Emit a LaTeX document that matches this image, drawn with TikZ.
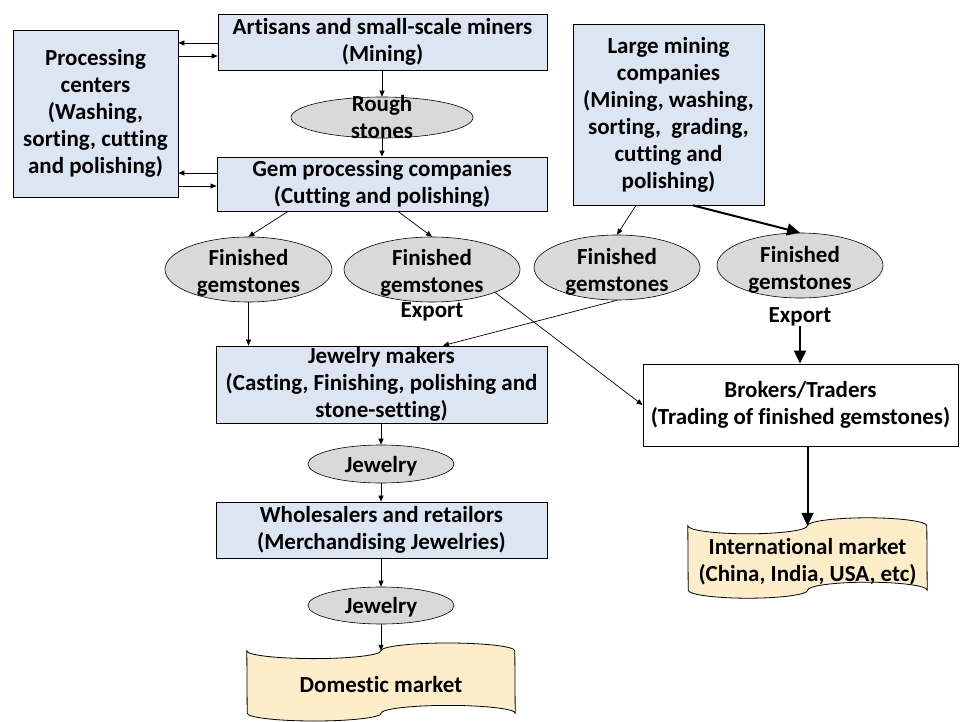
\documentclass[tikz,border=0pt]{standalone}
\usepackage{fontspec}
\setmainfont{Carlito}[Ligatures=NoCommon]
\usetikzlibrary{arrows.meta,shapes.geometric}
\definecolor{boxblue}{RGB}{220,230,242}
\definecolor{ovalgray}{RGB}{217,217,217}
\definecolor{tapefill}{RGB}{253,237,200}
\begin{document}
\begin{tikzpicture}[x=1pt,y=-1pt,
  lbl/.style={font=\bfseries\fontsize{23}{27}\selectfont, align=center, inner sep=0pt},
  stage/.style={lbl, draw=black, line width=0.8pt, fill=boxblue,
    execute at begin node={\rule{0pt}{21pt}}},
  trader/.style={lbl, draw=black, line width=0.8pt, fill=white,
    execute at begin node={\rule{0pt}{21pt}}},
  oval/.style={ellipse, draw=black, line width=0.6pt, fill=ovalgray, inner sep=0pt},
  tapebox/.style={lbl, minimum width=#1},
  tapeline/.style={draw=black, line width=0.8pt, fill=tapefill},
  arr/.style={line width=0.7pt, -{Triangle[length=6pt,width=5pt]}},
  bigarr/.style={line width=2pt, -{Triangle[length=13pt,width=12pt]}}
]
\useasboundingbox (0,0) rectangle (960,722);

% Small-scale chain
\node[stage, minimum width=165, minimum height=167] (proc) at (95.5,113.5)
  {Processing\\centers\\(Washing,\\sorting, cutting\\and polishing)};
\node[stage, minimum width=329, minimum height=56] (artisans) at (382.5,42)
  {Artisans and small-scale miners\\(Mining)};
\node[oval, minimum width=182, minimum height=41] (rough) at (382,117.5) {};
\node[lbl] (roughtxt) at (rough) {Rough\\stones};
\node[stage, minimum width=330, minimum height=54] (gem) at (382,184)
  {Gem processing companies\\(Cutting and polishing)};

% Large companies
\node[stage, minimum width=191, minimum height=181] (large) at (668.5,114.5)
  {Large mining\\companies\\(Mining, washing,\\sorting,\ \ grading,\\cutting and\\polishing)};

% Finished gemstones
\node[oval, minimum width=167, minimum height=65] (f1) at (248.5,269.5) {};
\node[lbl] at ([yshift=-3pt]f1.center) {Finished\\gemstones};
\node[oval, minimum width=176, minimum height=65] (f2) at (432,269.5) {};
\node[lbl] at ([yshift=-3pt]f2.center) {Finished\\gemstones};
\node[oval, minimum width=166, minimum height=65] (f3) at (617,267.5) {};
\node[lbl] at ([yshift=-4pt]f3.center) {Finished\\gemstones};
\node[oval, minimum width=166, minimum height=65] (f4) at (800,265.5) {};
\node[lbl] at ([yshift=-4pt]f4.center) {Finished\\gemstones};
\node[lbl] (exp2) at (432,312) {Export};
\node[lbl] (exp4) at (800,317) {Export};

% Jewelry chain
\node[stage, minimum width=331, minimum height=77] (jm) at (381.5,384.5)
  {Jewelry makers\\(Casting, Finishing, polishing and\\stone-setting)};
\node[oval, minimum width=146, minimum height=38] (jw1) at (381,464) {};
\node[lbl] at ([yshift=-2pt]jw1.center) {Jewelry};
\node[stage, minimum width=331, minimum height=56] (ws) at (381.5,530)
  {Wholesalers and retailors\\(Merchandising Jewelries)};
\node[oval, minimum width=146, minimum height=37] (jw2) at (381,605.5) {};
\node[lbl] at ([yshift=-2pt]jw2.center) {Jewelry};

% Domestic market (punched tape)
\node[tapebox=268, minimum height=62] (dom) at (381,682) {};
\draw[tapeline] (dom.north west)
  arc[start angle=180, end angle=360, x radius=67pt, y radius=7.8pt]
  arc[start angle=180, end angle=0, x radius=67pt, y radius=7.8pt]
  -- (dom.south east)
  arc[start angle=0, end angle=180, x radius=67pt, y radius=7.8pt]
  arc[start angle=0, end angle=-180, x radius=67pt, y radius=7.8pt]
  -- cycle;
\node[lbl] at ([yshift=-3pt]dom.center) {Domestic market};

% Export side
\node[trader, minimum width=315, minimum height=82] (brok) at (800.5,405)
  {Brokers/Traders\\(Trading of finished gemstones)};
\node[tapebox=239, minimum height=64] (intl) at (807.5,558) {};
\draw[tapeline] (intl.north west)
  arc[start angle=180, end angle=360, x radius=59.75pt, y radius=8pt]
  arc[start angle=180, end angle=0, x radius=59.75pt, y radius=8pt]
  -- (intl.south east)
  arc[start angle=0, end angle=180, x radius=59.75pt, y radius=8pt]
  arc[start angle=0, end angle=-180, x radius=59.75pt, y radius=8pt]
  -- cycle;
\node[lbl] at ([yshift=-4pt]intl.center) {International market\\(China, India, USA, etc)};

% Connectors
\draw[arr] (artisans.west |- 0,43) -- (proc.east |- 0,43);
\draw[arr] (proc.east |- 0,56) -- (artisans.west |- 0,56);
\draw[arr] (gem.west |- 0,173) -- (proc.east |- 0,173);
\draw[arr] (proc.east |- 0,186) -- (gem.west |- 0,186);
\draw[arr] (artisans.south -| rough.north) -- (rough.north);
\draw[arr] (rough.south) -- (gem.north -| rough.south);
\draw[arr] (gem.south -| 288,0) -- (f1.north);
\draw[arr] (gem.south -| 398,0) -- (f2.north);
\draw[arr] (large.south -| 636,0) -- (f3.north);
\draw[bigarr] (large.south -| 693,0) -- (f4.north);
\draw[arr] (f1.south) -- (jm.north -| f1.south);
\draw[arr] (f3.south) -- (jm.north -| 443,0);
\draw[arr] (f2.-20) -- (brok.west);
\draw[bigarr] (exp4.south) -- (brok.north -| exp4.south);
\draw[bigarr] (brok.south -| intl.north) -- (intl.north);
\draw[arr] (jm.south -| jw1.north) -- (jw1.north);
\draw[arr] (jw1.south) -- (ws.north -| jw1.south);
\draw[arr] (ws.south -| jw2.north) -- (jw2.north);
\draw[arr] (jw2.south) -- (dom.north -| jw2.south);
\end{tikzpicture}
\end{document}
